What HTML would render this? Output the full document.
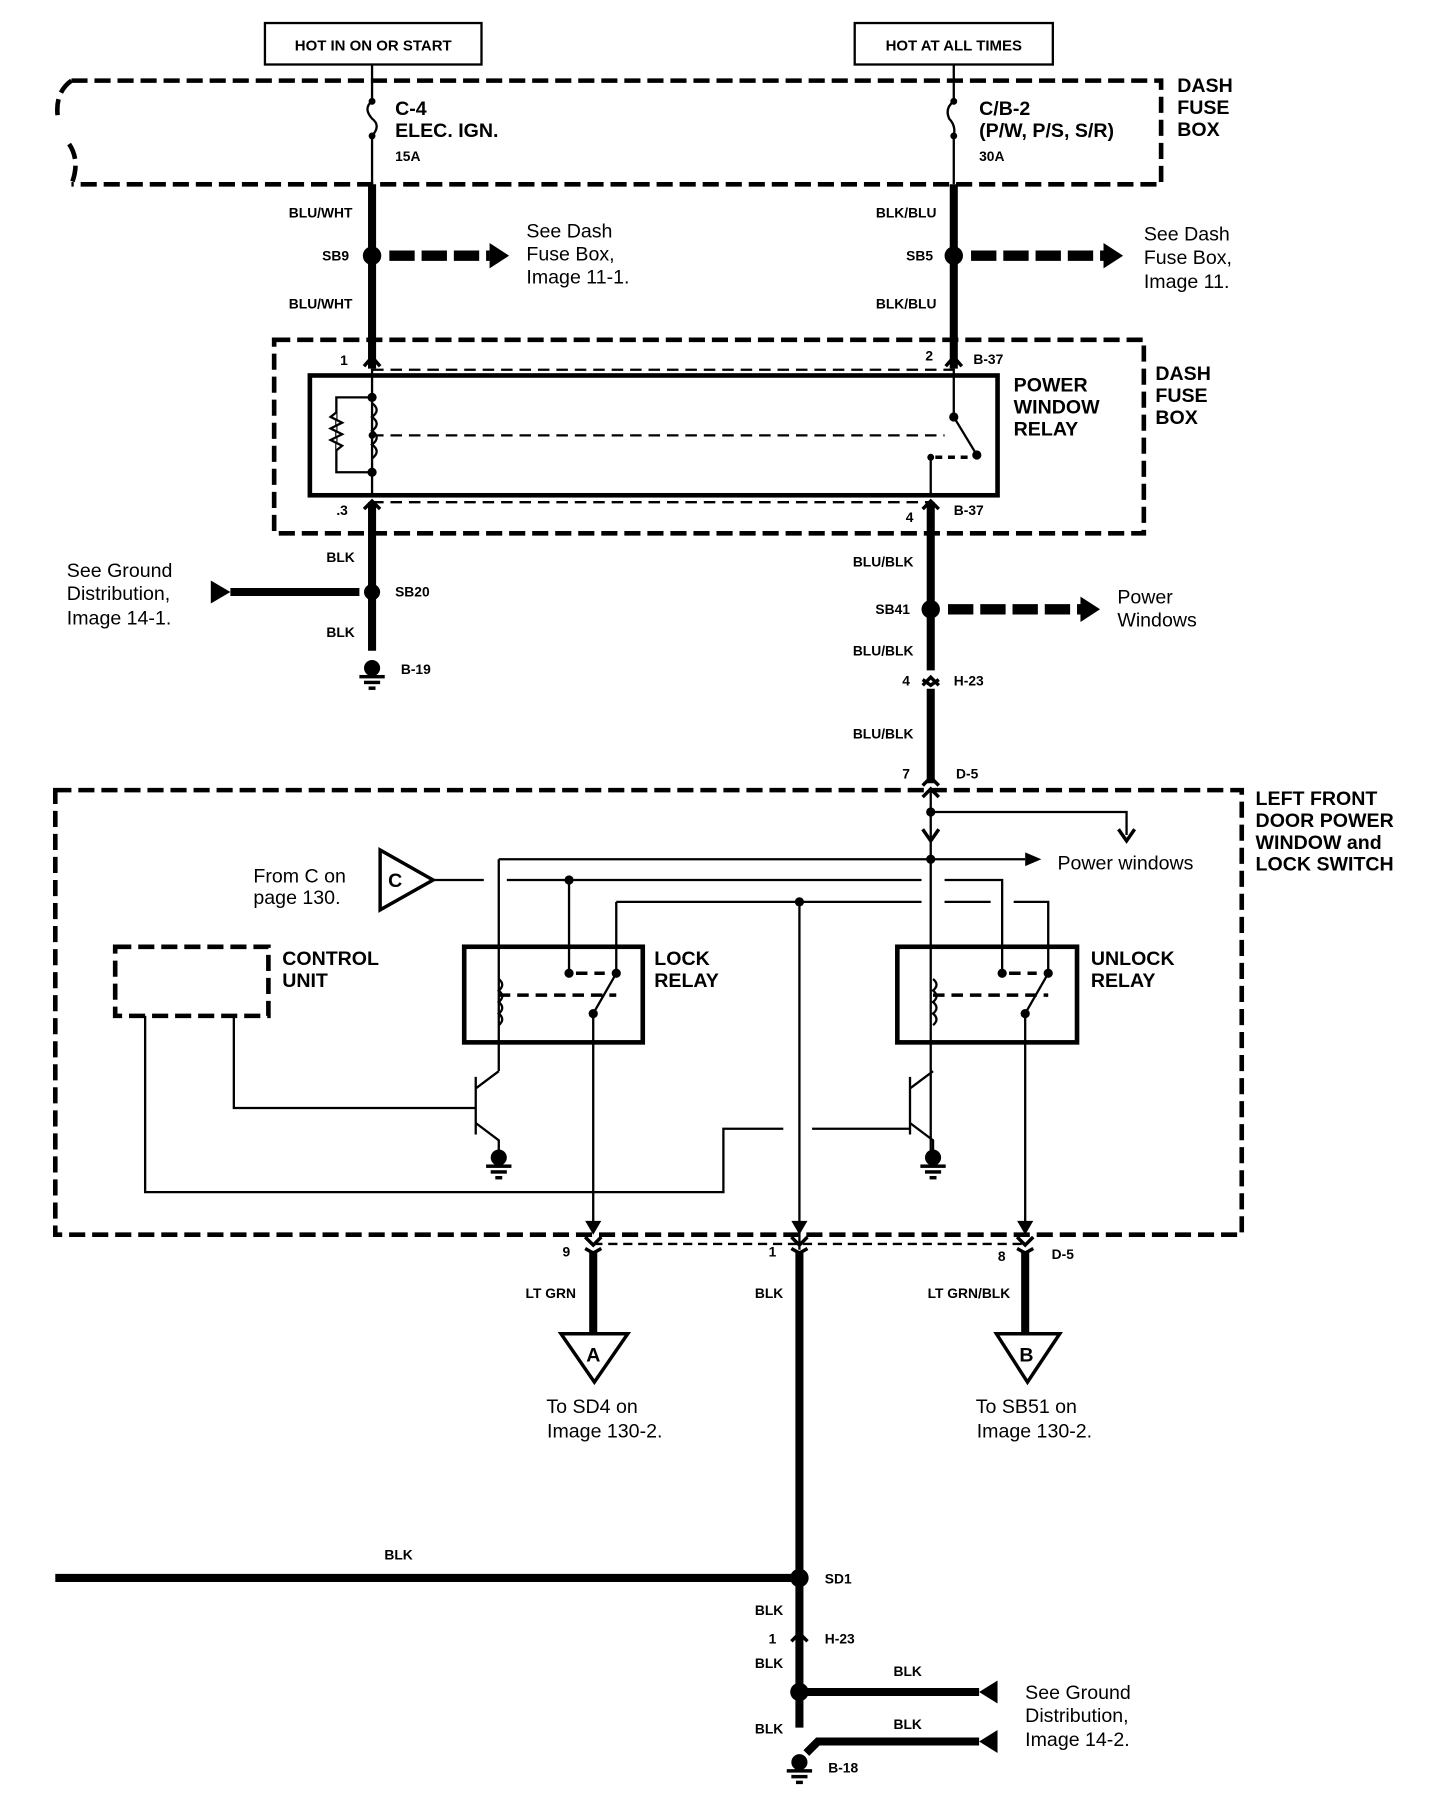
<!DOCTYPE html>
<html><head><meta charset="utf-8"><style>
html,body{margin:0;padding:0;background:#fff}
svg{display:block}
text{font-family:"Liberation Sans",sans-serif;fill:#000}
.b{font-weight:bold}
</style></head><body>
<svg width="1456" height="1806" viewBox="0 0 1264 1568" preserveAspectRatio="none" xmlns="http://www.w3.org/2000/svg">
<defs>
<g id="gnd"><circle cx="0" cy="0" r="7"/><rect x="-11" y="6" width="22" height="3"/><rect x="-7" y="11" width="14" height="3"/><rect x="-3" y="16" width="6" height="3"/></g>
</defs>
<rect width="1264" height="1568" fill="#fff"/>
<g fill="none" stroke="#000">
<rect x="230" y="20" width="188" height="36" stroke-width="2"/>
<rect x="742" y="20" width="172" height="36" stroke-width="2"/>
<g stroke-width="4" stroke-dasharray="14 6">
<path d="M62 70 H1008 V160 H62"/>
<path d="M62 70 Q48 80 50 100 M60 125 Q70 140 62 160"/>
<rect x="238" y="295" width="755" height="168"/>
<rect x="48" y="686" width="1030" height="386"/>
<rect x="100" y="822" width="133" height="60"/>
</g>
<path d="M323 56 V88 M323 118 V160 M828 56 V88 M828 118 V160" stroke-width="2"/>
<path d="M323 88 q-8 6 0 15 q8 6 0 15 M828 88 q-8 6 -4 15 q6 6 4 15" stroke-width="2"/>
<g stroke-width="7">
<path d="M323 160 V320 M828 160 V320 M323 436 V565 M808 436 V582 M808 598 V680"/>
<path d="M515 1086 V1160 M694 1086 V1500 M890 1086 V1160"/>
<path d="M48 1370 H694 M700 1469 H850 M700 1522 L710 1512 H850"/>
<path d="M200 514 H312"/>
</g>
<g stroke-width="9" stroke-dasharray="22 6">
<path d="M338 222 H425 M843 222 H960 M823 529 H940"/>
</g>
<rect x="269" y="326" width="597" height="104" stroke-width="4"/>
<path d="M323 321 H828 M323 436 H808" stroke-width="2" stroke-dasharray="10 6"/>
<path d="M323 320 V430 M828 320 V362 M808 397 V430" stroke-width="2"/>
<path d="M323 345 H292 V410 H323" stroke-width="2"/>
<path d="M292 358 l-5 4 l10 5 l-10 5 l10 5 l-10 5 l10 5 l-5 4" stroke-width="2" fill="#fff"/>
<path d="M323 350 q8 6 0 12 q8 6 0 12 q8 6 0 12 q8 6 0 12" stroke-width="2"/>
<path d="M323 378 H820" stroke-width="2" stroke-dasharray="10 6"/>
<path d="M828 362 L848 395" stroke-width="2"/>
<path d="M812 397 H842" stroke-width="3" stroke-dasharray="6 5"/>
<g stroke-width="2">
<path d="M808 686 V1000 M808 705 H978 V725 M433 746 H890 M433 746 V930"/>
<path d="M376 764 H420 M440 764 H800 M820 764 H870 V845"/>
<path d="M494 764 V845 M535 783 V845 M535 783 H800 M820 783 H860 M880 783 H910 V845 M694 783 V1085"/>
<path d="M535 845 L515 880 V1065 M910 845 L890 880 V1065"/>
<path d="M433 930 L413 945 M413 935 V985 M413 975 L433 990 V1000 M810 930 L790 945 M790 935 V985 M790 975 L810 990 V1000"/>
<path d="M203 882 V962 H413 M126 882 V1035 H628 V980 H680 M705 980 H790"/>
<path d="M433 850 q6 5 0 10 q6 5 0 10 q6 5 0 10 q6 5 0 10 M810 850 q6 5 0 10 q6 5 0 10 q6 5 0 10 q6 5 0 10"/>
</g>
<path d="M433 864 H535 M810 864 H910 M500 845 H525 M876 845 H900" stroke-width="3" stroke-dasharray="10 6"/>
<rect x="403" y="822" width="155" height="83" stroke-width="4"/>
<rect x="779" y="822" width="156" height="83" stroke-width="4"/>
<path d="M515 1080 H890" stroke-width="2" stroke-dasharray="8 5"/>
<g stroke-width="3">
<path d="M316 318 l7 -8 l7 8 M821 318 l7 -8 l7 8 M316 442 l7 -7 l7 7 M801 442 l7 -7 l7 7 M801 595 l7 -7 l7 7 M801 590 l7 5 l7 -5 M801 682 l7 -7 l7 7 M801 692 l7 -7 l7 7"/>
<path d="M508 1074 l7 7 l7 -7 M687 1074 l7 7 l7 -7 M883 1074 l7 7 l7 -7 M508 1084 l7 4 l7 -4 M687 1084 l7 4 l7 -4 M883 1084 l7 4 l7 -4 M687 1425 l7 -7 l7 7"/>
<path d="M801 720 l7 10 l7 -10 M971 720 l7 10 l7 -10"/>
</g>
<path d="M330 738 L330 790 L376 764 Z" stroke-width="3" fill="#fff"/>
<path d="M487 1158 H545 L516 1200 Z M865 1158 H920 L892 1200 Z" stroke-width="3" fill="#fff"/>
</g>
<g fill="#000">
<polygon points="425,211 442,222 425,233"/>
<polygon points="958,211 975,222 958,233"/>
<polygon points="938,518 955,529 938,540"/>
<polygon points="183,504 200,514 183,524"/>
<polygon points="866,1459 850,1469 866,1479"/>
<polygon points="866,1502 850,1512 866,1522"/>
<polygon points="890,740 904,746 890,752"/>
<circle cx="323" cy="222" r="8"/><circle cx="828" cy="222" r="8"/>
<circle cx="323" cy="514" r="7"/><circle cx="808" cy="529" r="8"/>
<circle cx="694" cy="1370" r="8"/><circle cx="694" cy="1469" r="8"/>
<circle cx="323" cy="88" r="3"/><circle cx="323" cy="118" r="3"/><circle cx="828" cy="88" r="3"/><circle cx="828" cy="118" r="3"/>
<circle cx="323" cy="345" r="4"/><circle cx="323" cy="410" r="4"/><circle cx="323" cy="378" r="3"/>
<circle cx="828" cy="362" r="4"/><circle cx="848" cy="395" r="4"/><circle cx="808" cy="397" r="3"/>
<circle cx="808" cy="705" r="4"/><circle cx="808" cy="746" r="4"/><circle cx="494" cy="764" r="4"/><circle cx="694" cy="783" r="4"/>
<circle cx="494" cy="845" r="4"/><circle cx="535" cy="845" r="4"/><circle cx="515" cy="880" r="4"/>
<circle cx="870" cy="845" r="4"/><circle cx="910" cy="845" r="4"/><circle cx="890" cy="880" r="4"/>
<polygon points="508,1060 515,1072 522,1060"/><polygon points="687,1060 694,1072 701,1060"/><polygon points="883,1060 890,1072 897,1060"/>
<use href="#gnd" x="323" y="580"/><use href="#gnd" x="433" y="1005"/><use href="#gnd" x="810" y="1005"/><use href="#gnd" x="694" y="1530"/>
</g>
<text x="324" y="44" text-anchor="middle" font-size="13" class="b">HOT IN ON OR START</text>
<text x="828" y="44" text-anchor="middle" font-size="13" class="b">HOT AT ALL TIMES</text>
<g font-weight="bold" font-size="17">
<text x="1022" y="80">DASH</text><text x="1022" y="99">FUSE</text><text x="1022" y="118">BOX</text>
<text x="343" y="100">C-4</text><text x="343" y="119">ELEC. IGN.</text>
<text x="850" y="100">C/B-2</text><text x="850" y="119">(P/W, P/S, S/R)</text>
<text x="880" y="340">POWER</text><text x="880" y="359">WINDOW</text><text x="880" y="378">RELAY</text>
<text x="1003" y="330">DASH</text><text x="1003" y="349">FUSE</text><text x="1003" y="368">BOX</text>
<text x="1090" y="699">LEFT FRONT</text><text x="1090" y="718">DOOR POWER</text><text x="1090" y="737">WINDOW and</text><text x="1090" y="756">LOCK SWITCH</text>
<text x="245" y="838">CONTROL</text><text x="245" y="857">UNIT</text>
<text x="568" y="838">LOCK</text><text x="568" y="857">RELAY</text>
<text x="947" y="838">UNLOCK</text><text x="947" y="857">RELAY</text>
<text x="337" y="770">C</text><text x="509" y="1182">A</text><text x="885" y="1182">B</text>
</g>
<g font-weight="bold" font-size="12">
<text x="343" y="140">15A</text><text x="850" y="140">30A</text>
<text x="306" y="189" text-anchor="end">BLU/WHT</text><text x="306" y="268" text-anchor="end">BLU/WHT</text>
<text x="813" y="189" text-anchor="end">BLK/BLU</text><text x="813" y="268" text-anchor="end">BLK/BLU</text>
<text x="303" y="226" text-anchor="end">SB9</text><text x="810" y="226" text-anchor="end">SB5</text>
<text x="302" y="317" text-anchor="end">1</text><text x="810" y="313" text-anchor="end">2</text><text x="845" y="316">B-37</text>
<text x="302" y="447" text-anchor="end">.3</text><text x="793" y="453" text-anchor="end">4</text><text x="828" y="447">B-37</text>
<text x="308" y="488" text-anchor="end">BLK</text><text x="308" y="553" text-anchor="end">BLK</text>
<text x="343" y="518">SB20</text><text x="348" y="585">B-19</text>
<text x="793" y="492" text-anchor="end">BLU/BLK</text><text x="793" y="569" text-anchor="end">BLU/BLK</text><text x="793" y="641" text-anchor="end">BLU/BLK</text>
<text x="790" y="533" text-anchor="end">SB41</text>
<text x="790" y="595" text-anchor="end">4</text><text x="828" y="595">H-23</text>
<text x="790" y="676" text-anchor="end">7</text><text x="830" y="676">D-5</text>
<text x="495" y="1091" text-anchor="end">9</text><text x="674" y="1091" text-anchor="end">1</text><text x="873" y="1095" text-anchor="end">8</text><text x="913" y="1093">D-5</text>
<text x="500" y="1127" text-anchor="end">LT GRN</text><text x="680" y="1127" text-anchor="end">BLK</text><text x="877" y="1127" text-anchor="end">LT GRN/BLK</text>
<text x="346" y="1354" text-anchor="middle">BLK</text><text x="716" y="1375">SD1</text>
<text x="680" y="1402" text-anchor="end">BLK</text><text x="674" y="1427" text-anchor="end">1</text><text x="716" y="1427">H-23</text>
<text x="680" y="1448" text-anchor="end">BLK</text><text x="680" y="1505" text-anchor="end">BLK</text>
<text x="788" y="1455" text-anchor="middle">BLK</text><text x="788" y="1501" text-anchor="middle">BLK</text>
<text x="719" y="1539">B-18</text>
</g>
<g font-size="17">
<text x="457" y="206">See Dash</text><text x="457" y="226">Fuse Box,</text><text x="457" y="246">Image 11-1.</text>
<text x="993" y="209">See Dash</text><text x="993" y="229">Fuse Box,</text><text x="993" y="250">Image 11.</text>
<text x="58" y="501">See Ground</text><text x="58" y="521">Distribution,</text><text x="58" y="542">Image 14-1.</text>
<text x="970" y="524">Power</text><text x="970" y="544">Windows</text>
<text x="918" y="755">Power windows</text>
<text x="220" y="766">From C on</text><text x="220" y="785">page 130.</text>
<text x="514" y="1227" text-anchor="middle">To SD4 on</text><text x="525" y="1248" text-anchor="middle">Image 130-2.</text>
<text x="891" y="1227" text-anchor="middle">To SB51 on</text><text x="898" y="1248" text-anchor="middle">Image 130-2.</text>
<text x="890" y="1475">See Ground</text><text x="890" y="1495">Distribution,</text><text x="890" y="1516">Image 14-2.</text>
</g>
</svg>
</body></html>
